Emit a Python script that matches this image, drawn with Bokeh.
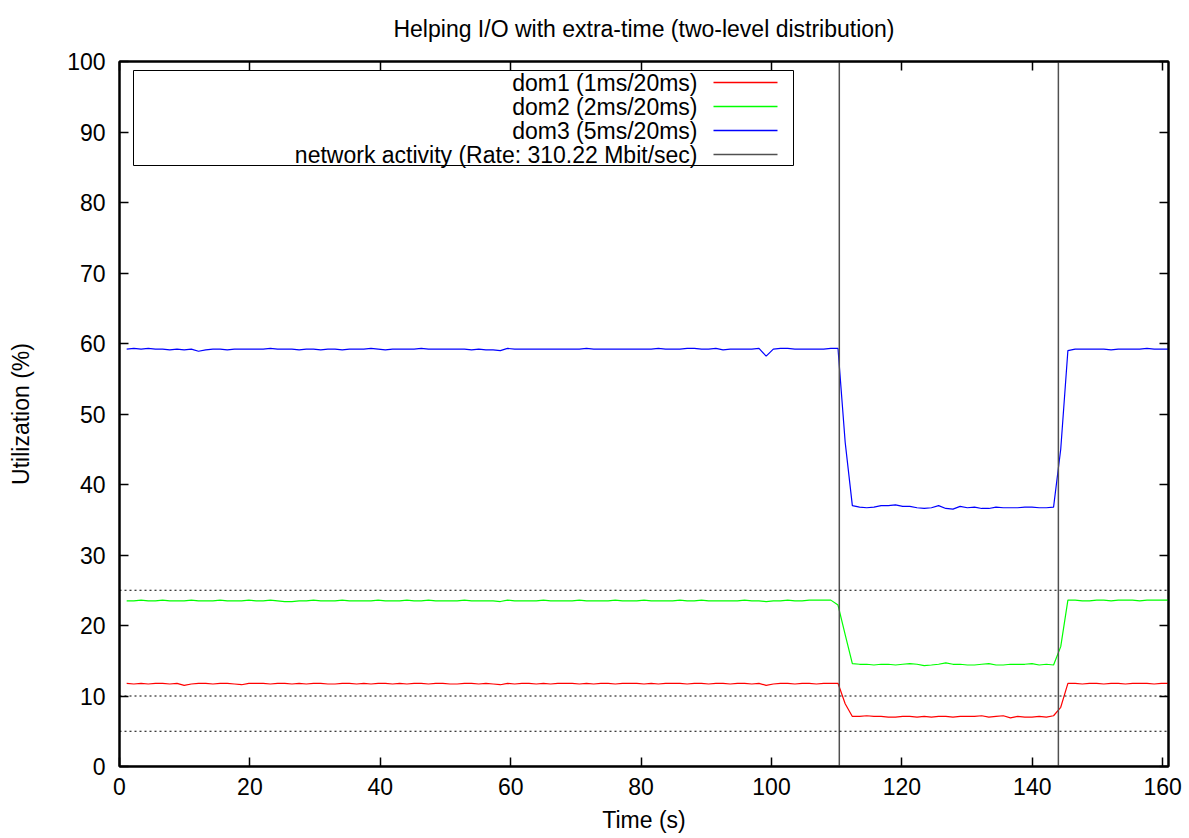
from bokeh.plotting import figure
from bokeh.models import (Range1d, LinearAxis, FixedTicker, Span, BoxAnnotation,
                          Label, ColumnDataSource, CustomJSTickFormatter)
from bokeh.embed import file_html
from bokeh.resources import INLINE

FONT = "Liberation Sans"
FS = "23px"

# ---- data -----------------------------------------------------------------
time_s = [
    1.10, 2.20, 3.31, 4.41, 5.51, 6.61, 7.71, 8.82, 9.92, 11.02,
    12.12, 13.22, 14.33, 15.43, 16.53, 17.63, 18.73, 19.84, 20.94, 22.04,
    23.14, 24.24, 25.35, 26.45, 27.55, 28.65, 29.75, 30.86, 31.96, 33.06,
    34.16, 35.26, 36.37, 37.47, 38.57, 39.67, 40.77, 41.88, 42.98, 44.08,
    45.18, 46.28, 47.39, 48.49, 49.59, 50.69, 51.79, 52.90, 54.00, 55.10,
    56.20, 57.30, 58.41, 59.51, 60.61, 61.71, 62.81, 63.92, 65.02, 66.12,
    67.22, 68.32, 69.43, 70.53, 71.63, 72.73, 73.83, 74.94, 76.04, 77.14,
    78.24, 79.34, 80.45, 81.55, 82.65, 83.75, 84.85, 85.96, 87.06, 88.16,
    89.26, 90.36, 91.47, 92.57, 93.67, 94.77, 95.87, 96.98, 98.08, 99.18,
    100.28, 101.38, 102.49, 103.59, 104.69, 105.79, 106.89, 108.00, 109.10, 110.20,
    111.30, 112.40, 113.51, 114.61, 115.71, 116.81, 117.91, 119.02, 120.12, 121.22,
    122.32, 123.42, 124.53, 125.63, 126.73, 127.83, 128.93, 130.04, 131.14, 132.24,
    133.34, 134.44, 135.55, 136.65, 137.75, 138.85, 139.95, 141.06, 142.16, 143.26,
    144.36, 145.46, 146.57, 147.67, 148.77, 149.87, 150.97, 152.08, 153.18, 154.28,
    155.38, 156.48, 157.59, 158.69, 159.79, 160.89,
]

dom1 = [
    11.8, 11.7, 11.8, 11.7, 11.8, 11.8, 11.7, 11.8, 11.5, 11.7,
    11.8, 11.8, 11.7, 11.8, 11.8, 11.7, 11.6, 11.8, 11.8, 11.8,
    11.7, 11.8, 11.8, 11.7, 11.8, 11.7, 11.8, 11.8, 11.7, 11.7,
    11.8, 11.8, 11.7, 11.8, 11.7, 11.8, 11.8, 11.7, 11.8, 11.7,
    11.8, 11.8, 11.7, 11.8, 11.8, 11.7, 11.7, 11.8, 11.8, 11.7,
    11.8, 11.7, 11.6, 11.8, 11.7, 11.8, 11.8, 11.7, 11.8, 11.7,
    11.8, 11.8, 11.8, 11.7, 11.8, 11.7, 11.8, 11.8, 11.7, 11.8,
    11.8, 11.8, 11.7, 11.8, 11.7, 11.8, 11.8, 11.8, 11.7, 11.8,
    11.8, 11.7, 11.8, 11.8, 11.7, 11.8, 11.8, 11.7, 11.8, 11.5,
    11.7, 11.8, 11.8, 11.7, 11.8, 11.8, 11.7, 11.8, 11.8, 11.8,
    8.9,
    7.1, 7.1, 7.2, 7.1, 7.1, 7.0, 7.0, 7.1, 7.1, 7.0,
    7.1, 7.0, 7.1, 7.1, 7.0, 7.1, 7.1, 7.1, 7.2, 7.0,
    7.1, 7.2, 6.9, 7.1, 7.0, 7.0, 7.1, 7.0, 7.2,
    8.4,
    11.8, 11.8, 11.7, 11.8, 11.8, 11.7, 11.8, 11.8, 11.7, 11.8,
    11.8, 11.8, 11.7, 11.8, 11.8,
]

dom2 = [
    23.5, 23.5, 23.6, 23.5, 23.5, 23.6, 23.5, 23.5, 23.5, 23.6,
    23.5, 23.5, 23.5, 23.6, 23.5, 23.5, 23.5, 23.6, 23.5, 23.5,
    23.6, 23.5, 23.4, 23.4, 23.5, 23.5, 23.6, 23.5, 23.5, 23.5,
    23.6, 23.5, 23.5, 23.5, 23.5, 23.6, 23.5, 23.5, 23.5, 23.6,
    23.5, 23.5, 23.6, 23.5, 23.5, 23.5, 23.5, 23.6, 23.5, 23.5,
    23.5, 23.5, 23.4, 23.6, 23.5, 23.5, 23.5, 23.5, 23.6, 23.5,
    23.5, 23.5, 23.5, 23.6, 23.5, 23.5, 23.5, 23.5, 23.6, 23.5,
    23.5, 23.5, 23.6, 23.5, 23.5, 23.5, 23.5, 23.6, 23.5, 23.5,
    23.6, 23.5, 23.5, 23.5, 23.5, 23.5, 23.6, 23.5, 23.5, 23.4,
    23.5, 23.5, 23.6, 23.5, 23.5, 23.6, 23.6, 23.6, 23.6, 22.9,
    18.7,
    14.6, 14.5, 14.5, 14.4, 14.5, 14.5, 14.4, 14.5, 14.6, 14.5,
    14.3, 14.4, 14.5, 14.7, 14.5, 14.5, 14.4, 14.4, 14.5, 14.6,
    14.4, 14.4, 14.5, 14.5, 14.5, 14.6, 14.4, 14.5, 14.4,
    17.0,
    23.6, 23.6, 23.5, 23.5, 23.6, 23.6, 23.5, 23.6, 23.6, 23.6,
    23.5, 23.6, 23.6, 23.6, 23.6,
]

dom3 = [
    59.2, 59.3, 59.2, 59.3, 59.2, 59.2, 59.1, 59.2, 59.1, 59.2,
    58.9, 59.1, 59.2, 59.2, 59.1, 59.2, 59.2, 59.2, 59.2, 59.2,
    59.3, 59.2, 59.2, 59.2, 59.1, 59.2, 59.2, 59.1, 59.2, 59.2,
    59.1, 59.2, 59.2, 59.2, 59.3, 59.2, 59.1, 59.2, 59.2, 59.2,
    59.2, 59.3, 59.2, 59.2, 59.2, 59.2, 59.2, 59.2, 59.1, 59.2,
    59.1, 59.1, 59.0, 59.3, 59.2, 59.2, 59.2, 59.2, 59.2, 59.2,
    59.2, 59.2, 59.2, 59.2, 59.3, 59.2, 59.2, 59.2, 59.2, 59.2,
    59.2, 59.2, 59.2, 59.2, 59.3, 59.2, 59.2, 59.2, 59.3, 59.3,
    59.2, 59.2, 59.3, 59.1, 59.2, 59.2, 59.2, 59.2, 59.3, 58.2,
    59.2, 59.3, 59.3, 59.2, 59.2, 59.2, 59.2, 59.2, 59.3, 59.3,
    46.0,
    37.0, 36.8, 36.7, 36.8, 37.0, 37.0, 37.1, 36.9, 36.9, 36.7,
    36.6, 36.7, 37.0, 36.6, 36.5, 36.9, 36.7, 36.8, 36.6, 36.6,
    36.8, 36.7, 36.7, 36.7, 36.8, 36.8, 36.7, 36.7, 36.8,
    45.0,
    59.0, 59.2, 59.2, 59.2, 59.2, 59.2, 59.1, 59.2, 59.2, 59.2,
    59.2, 59.3, 59.2, 59.2, 59.2,
]

# network activity: on between the two transitions (drawn as 0 / 100 %)
net_time = [0.0, 110.4, 110.4, 144.0, 144.0, 160.89]
net_level = [0, 0, 100, 100, 0, 0]

reference_levels = [25, 10, 5]

x_ticks = [0, 20, 40, 60, 80, 100, 120, 140, 160]
y_ticks = [0, 10, 20, 30, 40, 50, 60, 70, 80, 90, 100]

title_text = "Helping I/O with extra-time (two-level distribution)"
series_names = ["dom1 (1ms/20ms)", "dom2 (2ms/20ms)", "dom3 (5ms/20ms)",
                "network activity (Rate: 310.22 Mbit/sec)"]
series_colors = ["#ff0000", "#00ff00", "#0000ff", "#505050"]

X_MAX = 160.89

# ---- figure ---------------------------------------------------------------
W, H = 1189, 838
BL, BR, BT, BB = 119, 21, 61, 72

p = figure(width=W, height=H, output_backend="svg", toolbar_location=None,
           x_range=Range1d(0, X_MAX), y_range=Range1d(0, 100),
           min_border_left=BL, min_border_right=BR,
           min_border_top=BT, min_border_bottom=BB,
           x_axis_label="Time (s)", y_axis_label="Utilization (%)")
p.background_fill_color = "white"
p.border_fill_color = "white"
p.outline_line_color = "black"
p.outline_line_width = 2
p.grid.visible = False

for ax in (p.xaxis[0], p.yaxis[0]):
    ax.major_label_text_font = FONT
    ax.major_label_text_font_size = FS
    ax.major_label_text_color = "black"
    ax.axis_label_text_font = FONT
    ax.axis_label_text_font_size = FS
    ax.axis_label_text_font_style = "normal"
    ax.axis_label_text_color = "black"
    ax.major_tick_in = 9
    ax.major_tick_out = 0
    ax.major_tick_line_width = 1.5
    ax.minor_tick_line_color = None
    ax.axis_line_width = 2

p.xaxis[0].ticker = FixedTicker(ticks=x_ticks)
p.yaxis[0].ticker = FixedTicker(ticks=y_ticks)
p.xaxis[0].major_label_standoff = 11
p.yaxis[0].major_label_standoff = 14
p.xaxis[0].axis_label_standoff = 9
p.yaxis[0].axis_label_standoff = 30

# mirrored ticks on top (carrying the chart title) and on the right
blank = CustomJSTickFormatter(code="return ''")
top_ax = LinearAxis(ticker=FixedTicker(ticks=x_ticks), formatter=blank,
                    major_tick_in=9, major_tick_out=0, major_tick_line_width=1.5,
                    minor_tick_line_color=None, axis_line_width=2, major_label_standoff=0,
                    axis_label=title_text, axis_label_standoff=20,
                    axis_label_text_font=FONT, axis_label_text_font_size=FS,
                    axis_label_text_font_style="normal", axis_label_text_color="black")
right_ax = LinearAxis(ticker=FixedTicker(ticks=y_ticks), formatter=blank,
                      major_tick_in=9, major_tick_out=0, major_tick_line_width=1.5,
                      minor_tick_line_color=None, axis_line_width=2, major_label_standoff=0)
p.add_layout(top_ax, "above")
p.add_layout(right_ax, "right")

# dotted reference levels
for lvl in reference_levels:
    p.add_layout(Span(location=lvl, dimension="width", line_color="black",
                      line_width=1, line_dash="2 3"))

src = ColumnDataSource(dict(t=time_s, d1=dom1, d2=dom2, d3=dom3))
p.line("t", "d1", source=src, line_color=series_colors[0], line_width=1.2)
p.line("t", "d2", source=src, line_color=series_colors[1], line_width=1.2)
p.line("t", "d3", source=src, line_color=series_colors[2], line_width=1.2)
p.line(net_time, net_level, line_color=series_colors[3], line_width=1.5)

# ---- legend box (text on the left, sample line on the right) ---------------
FW = W - BL - BR
FH = H - BT - BB


def px_x(px):
    return (px - BL) / FW * X_MAX


def px_y(py):
    return (H - BB - py) / FH * 100


p.add_layout(BoxAnnotation(left=px_x(133), right=px_x(793), top=px_y(70), bottom=px_y(165),
                           fill_color="white", fill_alpha=1, line_color="black",
                           line_alpha=1, line_width=1, level="underlay"))

row_y = [82, 106, 130, 154]
for name, ry in zip(series_names, row_y):
    p.add_layout(Label(x=px_x(697), y=px_y(ry), text=name, text_align="right",
                       text_baseline="middle", text_font=FONT, text_font_size=FS,
                       text_color="black"))
for color, ry in zip(series_colors, row_y):
    p.line([px_x(713), px_x(777)], [px_y(ry), px_y(ry)], line_color=color, line_width=1.5)

open("out.html", "w").write(file_html(p, INLINE))
